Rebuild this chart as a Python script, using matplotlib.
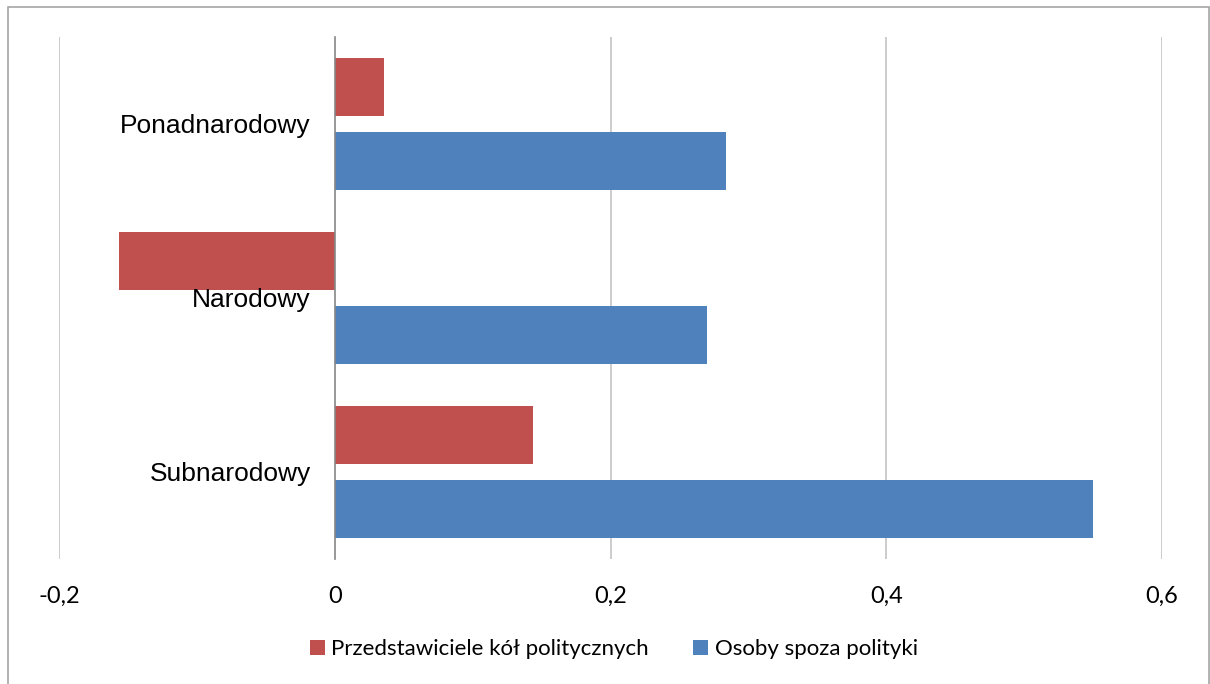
import numpy as np
import matplotlib
matplotlib.use("Agg")
import matplotlib.pyplot as plt
from matplotlib.patches import Rectangle
from matplotlib.ticker import FuncFormatter

# ----------------------------------------------------------------------------------------------------------------------
# data
# ----------------------------------------------------------------------------------------------------------------------

kategorie = ["Subnarodowy", "Narodowy", "Ponadnarodowy"]
politycy = [0.1435, -0.1565, 0.0355]
spoza_polityki = [0.550, 0.270, 0.284]
serie = ["Przedstawiciele kół politycznych", "Osoby spoza polityki"]
x_ticks = [-0.2, 0, 0.2, 0.4, 0.6]

# ----------------------------------------------------------------------------------------------------------------------
# plot
# ----------------------------------------------------------------------------------------------------------------------

plt.rcParams["axes.unicode_minus"] = False

RED = "#C0504D"
BLUE = "#4F81BD"

W, H = 1210, 684
fig = plt.figure(figsize=(W / 100, H / 100), dpi=100)
ax = fig.add_axes([59 / W, 1 - 559 / H, (1162 - 59) / W, (559 - 37) / H])

y = np.arange(len(kategorie))
h = 0.333
off = 0.21
b1 = ax.barh(y + off, politycy, height=h, color=RED, label=serie[0], zorder=2)
b2 = ax.barh(y - off, spoza_polityki, height=h, color=BLUE, label=serie[1], zorder=2)

ax.set_xlim(-0.2, 0.6)
ax.set_ylim(-0.5, 2.5)
ax.set_xticks(x_ticks)
ax.xaxis.set_major_formatter(FuncFormatter(lambda v, p: f"{v:g}".replace(".", ",")))
ax.tick_params(axis="x", length=0, pad=19.5, labelsize=17)
for lab in ax.get_xticklabels():
    lab.set_family("Lato")
ax.set_yticks([])

for s in ["top", "right", "bottom"]:
    ax.spines[s].set_visible(False)
ax.spines["left"].set_position(("data", 0))
ax.spines["left"].set_color("#868686")
ax.spines["left"].set_linewidth(1.2)
ax.spines["left"].set_zorder(3)

for xv in x_ticks:
    if xv != 0:
        ax.axvline(xv, color="#BFBFBF", lw=1.1, zorder=1)

# category labels sit left of the zero line, drawn above the bars
for yi, name in zip(y, kategorie):
    ax.annotate(name, xy=(0, yi), xytext=(-24, 0), textcoords="offset pixels",
                ha="right", va="center_baseline", fontsize=19,
                family="Liberation Sans", color="black", zorder=5)

fig.legend(handles=[b1, b2], labels=serie, loc="center",
           bbox_to_anchor=(614 / W, 1 - 649 / H), ncol=2, frameon=False,
           prop={"family": "Lato", "size": 16}, handlelength=0.65, handleheight=0.65,
           handletextpad=0.3, columnspacing=2.0)

# outer border
fig.patches.append(Rectangle((8 / W, -5 / H), 1201 / W, 682 / H, transform=fig.transFigure,
                             fill=False, edgecolor="#A6A6A6", lw=1.2))

fig.savefig("out.png", dpi=100)
